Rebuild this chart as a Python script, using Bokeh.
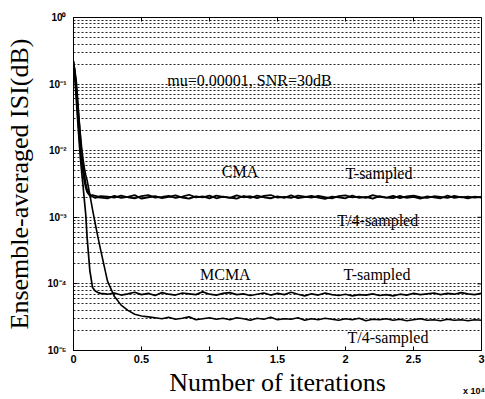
import math
from bokeh.plotting import figure
from bokeh.models import FixedTicker, LinearAxis, ColumnDataSource
from bokeh.core.properties import value
from bokeh.embed import file_html
from bokeh.resources import INLINE

# ---------------- data ----------------
iterations = [0, 100, 200, 300, 400, 500, 600, 700, 800, 900, 1000, 1200, 1400, 1600, 1800, 2000] + \
    [2500 + 500 * i for i in range(56)]

cma_t_early = [0.22, 0.15, 0.08, 0.04, 0.02, 0.011, 0.007, 0.0048, 0.0035, 0.0028, 0.0024, 0.0021,
               0.00215, 0.0021, 0.00205, 0.00208]
cma_t_plateau_e3 = [2.05, 1.98, 2.12, 2.00, 1.93, 2.08, 2.15, 1.97,
                    2.02, 2.10, 1.95, 2.04, 2.18, 1.99, 2.06, 1.92,
                    2.11, 2.03, 1.96, 2.14, 2.00, 2.07, 1.94, 2.09,
                    2.16, 1.98, 2.03, 1.95, 2.12, 2.05, 1.97, 2.10,
                    2.01, 1.93, 2.08, 2.13, 1.99, 2.04, 1.96, 2.15,
                    2.02, 1.98, 2.09, 1.94, 2.06, 2.11, 2.00, 1.96,
                    2.07, 2.03, 1.95, 2.10, 1.99, 2.05, 1.97, 2.02]

cma_t4_early = [0.20, 0.16, 0.11, 0.06, 0.03, 0.016, 0.009, 0.006, 0.0042, 0.0032, 0.0026, 0.0022,
                0.00205, 0.00195, 0.0020, 0.00197]
cma_t4_plateau_e3 = [1.92, 2.10, 1.96, 2.03, 2.15, 1.90, 2.00, 2.08,
                     1.94, 2.02, 2.13, 1.97, 1.91, 2.06, 1.99, 2.11,
                     1.93, 2.04, 1.98, 1.90, 2.09, 1.95, 2.12, 2.00,
                     1.92, 2.07, 1.96, 2.14, 1.94, 2.01, 2.10, 1.97,
                     1.89, 2.05, 1.99, 1.93, 2.12, 1.96, 2.03, 1.91,
                     2.08, 1.98, 1.94, 2.10, 1.95, 2.02, 1.90, 2.06,
                     1.99, 1.93, 2.11, 1.96, 2.03, 1.92, 2.05, 1.98]

mcma_t_early = [0.22, 0.12, 0.06, 0.03, 0.015, 0.008, 0.0048, 0.003, 0.0018, 0.0011, 0.0005, 0.00016,
                0.000088, 0.000078, 0.000074, 0.000072]
mcma_t_plateau_e5 = [7.0, 7.3, 6.8, 7.1, 7.5, 6.9, 7.2, 6.7,
                     7.4, 7.0, 6.8, 7.3, 7.1, 6.9, 7.6, 7.0,
                     6.8, 7.2, 7.4, 6.9, 7.1, 6.7, 7.0, 7.3,
                     6.8, 7.2, 6.9, 7.5, 7.0, 6.6, 7.1, 6.8,
                     7.3, 6.9, 6.7, 7.0, 6.6, 6.9, 6.8, 7.1,
                     6.7, 6.9, 6.6, 7.0, 6.8, 7.2, 6.9, 7.1,
                     7.3, 6.9, 7.2, 7.0, 7.4, 7.1, 6.9, 7.2]

mcma_t4_early = [0.20, 0.15, 0.09, 0.05, 0.03, 0.018, 0.011, 0.0075, 0.0055, 0.0043, 0.0036, 0.0022,
                 0.0013, 0.0008, 0.0005, 0.00032]
mcma_t4_plateau_e5 = [11.0, 6.5, 4.8, 4.0, 3.5, 3.3, 3.2, 3.1,
                      3.00, 3.15, 2.95, 3.05, 3.20, 2.90, 3.00, 3.10,
                      2.95, 3.05, 2.90, 3.10, 3.00, 2.85, 3.05, 2.95,
                      3.15, 2.90, 3.00, 2.95, 3.10, 2.85, 3.00, 2.90,
                      3.05, 2.95, 2.85, 3.00, 2.90, 3.05, 2.80, 2.95,
                      2.90, 3.00, 2.85, 2.95, 2.80, 2.90, 3.00, 2.85,
                      2.90, 2.80, 2.95, 2.85, 2.90, 2.80, 2.90, 2.85]

cma_t = cma_t_early + [v * 1e-3 for v in cma_t_plateau_e3]
cma_t4 = cma_t4_early + [v * 1e-3 for v in cma_t4_plateau_e3]
mcma_t = mcma_t_early + [v * 1e-5 for v in mcma_t_plateau_e5]
mcma_t4 = mcma_t4_early + [v * 1e-5 for v in mcma_t4_plateau_e5]

x_ticks = [0, 5000, 10000, 15000, 20000, 25000, 30000]
x_tick_labels = ["0", "0.5", "1", "1.5", "2", "2.5", "3"]
y_ticks = [1e-5, 1e-4, 1e-3, 1e-2, 1e-1, 1e0]
y_tick_labels = ["10\u207b\u2075", "10\u207b\u2074", "10\u207b\u00b3", "10\u207b\u00b2", "10\u207b\u00b9", "10\u2070"]
x_multiplier_text = "x 10\u2074"

note_text = ["mu=0.00001, SNR=30dB", "CMA", "T-sampled", "T/4-sampled", "MCMA", "T-sampled", "T/4-sampled"]
note_x = [6900, 10900, 20000, 19400, 9300, 19850, 20150]
note_y = [0.115, 4.8e-3, 4.6e-3, 8.9e-4, 1.4e-4, 1.4e-4, 1.56e-5]

x_lo, x_hi = 0, 30000
y_lo, y_hi = 1e-5, 1.0

# ---------------- figure ----------------
p = figure(width=485, height=399, y_axis_type="log", x_range=(x_lo, x_hi), y_range=(y_lo, y_hi),
           output_backend="svg", toolbar_location=None,
           min_border_left=73, min_border_right=4, min_border_top=17, min_border_bottom=4)
p.background_fill_color = "white"
p.border_fill_color = "white"
p.outline_line_color = "black"
p.outline_line_width = 1

grid_vals = [m * 10.0 ** k for k in range(-5, 0) for m in range(1, 10)]
p.ygrid.ticker = FixedTicker(ticks=grid_vals)
p.ygrid.grid_line_color = "#222222"
p.ygrid.grid_line_dash = "2 2"
p.ygrid.grid_line_width = 1
p.xgrid.visible = False

src = ColumnDataSource(dict(it=iterations, cma_t=cma_t, cma_t4=cma_t4, mcma_t=mcma_t, mcma_t4=mcma_t4))
for col, lw in [("cma_t", 1.8), ("cma_t4", 1.8), ("mcma_t", 1.7), ("mcma_t4", 1.6)]:
    p.line("it", col, source=src, line_color="black", line_width=lw)

# inward tick marks on the top and right borders, at the same tick values
p.scatter(x=x_ticks, y=[y_hi] * len(x_ticks), marker="dash", angle=math.pi / 2, size=8,
          line_color="black", line_width=1)
p.scatter(x=[x_hi] * len(y_ticks), y=y_ticks, marker="dash", size=8, line_color="black", line_width=1)

for ax in [p.xaxis[0], p.yaxis[0]]:
    ax.major_tick_in = 4
    ax.major_tick_out = 0
    ax.minor_tick_line_color = None
    ax.axis_line_color = "black"
    ax.major_label_text_font = "Liberation Sans"
    ax.major_label_text_font_style = "bold"
    ax.axis_label_text_font = "Liberation Serif"
    ax.axis_label_text_font_style = "normal"
    ax.axis_label_text_color = "black"
    ax.major_label_text_color = "black"

p.xaxis.ticker = FixedTicker(ticks=x_ticks)
p.xaxis.major_label_overrides = dict(zip(x_ticks, x_tick_labels))
p.xaxis.major_label_text_font_size = "11px"
p.xaxis.major_label_standoff = 4

p.yaxis.ticker = FixedTicker(ticks=y_ticks)
p.yaxis.major_label_overrides = dict(zip(y_ticks, y_tick_labels))
p.yaxis.major_label_text_font_size = "10px"
p.yaxis.major_label_standoff = 7
p.yaxis.axis_label = "Ensemble-averaged ISI(dB)"
p.yaxis.axis_label_text_font_size = "26px"
p.yaxis.axis_label_standoff = 10

# second (line-less) bottom axis: carries the "x 10^4" multiplier and the axis title on one row
mult_pos = x_hi - 550
lower = LinearAxis(ticker=FixedTicker(ticks=[mult_pos]),
                   major_label_overrides={mult_pos: x_multiplier_text},
                   axis_line_color=None, major_tick_line_color=None, minor_tick_line_color=None,
                   major_tick_in=0, major_tick_out=0,
                   major_label_text_font="Liberation Sans", major_label_text_font_style="bold",
                   major_label_text_font_size="9px", major_label_text_color="black",
                   major_label_standoff=20,
                   axis_label="Number of iterations", axis_label_text_font="Liberation Serif",
                   axis_label_text_font_style="normal", axis_label_text_font_size="26px",
                   axis_label_text_color="black", axis_label_standoff=-31)
p.add_layout(lower, "below")

nsrc = ColumnDataSource(dict(x=note_x, y=note_y, t=note_text))
p.text("x", "y", text="t", source=nsrc, text_font=value("Liberation Serif"), text_font_size="16px",
       text_color="black", text_align="left", text_baseline="middle")

open("out.html", "w").write(file_html(p, INLINE))
